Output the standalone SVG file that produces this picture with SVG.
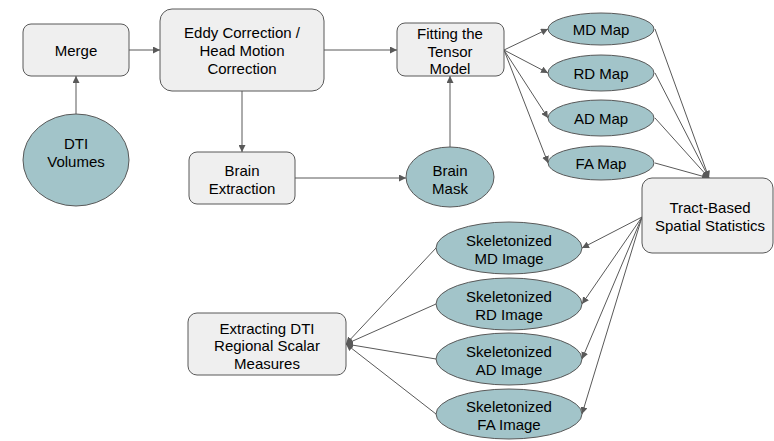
<svg xmlns="http://www.w3.org/2000/svg" width="774" height="441" viewBox="0 0 774 441">
<defs>
<marker id="ah" viewBox="0 0 10 10" refX="10" refY="5" markerWidth="7" markerHeight="7" markerUnits="userSpaceOnUse" orient="auto">
<path d="M0,0 L10,5 L0,10 z" fill="#595959"/>
</marker>
</defs>
<style>
.box{fill:#efefef;stroke:#595959;stroke-width:1}
.ell{fill:#a2c4c9;stroke:#595959;stroke-width:1}
.t{font-family:"Liberation Sans",Arial,sans-serif;font-size:15px;fill:#000;text-anchor:middle}
.c{stroke:#595959;stroke-width:1;fill:none;marker-end:url(#ah)}
</style>
<rect width="774" height="441" fill="#fff"/>
<g id="connectors">
<line class="c" x1="129" y1="50" x2="160" y2="50"/>
<line class="c" x1="76" y1="114" x2="76" y2="76"/>
<line class="c" x1="324" y1="50" x2="397" y2="50"/>
<line class="c" x1="242" y1="91" x2="242" y2="152"/>
<line class="c" x1="295" y1="178" x2="406" y2="178"/>
<line class="c" x1="450" y1="147" x2="450" y2="76"/>
<line class="c" x1="504" y1="50" x2="548" y2="29"/>
<line class="c" x1="504" y1="50" x2="548" y2="73"/>
<line class="c" x1="504" y1="50" x2="548" y2="118"/>
<line class="c" x1="504" y1="50" x2="548" y2="163"/>
<line class="c" x1="655" y1="29" x2="709" y2="178"/>
<line class="c" x1="655" y1="73" x2="709" y2="178"/>
<line class="c" x1="655" y1="118" x2="709" y2="178"/>
<line class="c" x1="655" y1="163" x2="709" y2="178"/>
<line class="c" x1="642" y1="217" x2="582" y2="248"/>
<line class="c" x1="642" y1="217" x2="582" y2="304"/>
<line class="c" x1="642" y1="217" x2="582" y2="359"/>
<line class="c" x1="642" y1="217" x2="582" y2="414"/>
<line class="c" x1="436" y1="248" x2="346" y2="344"/>
<line class="c" x1="436" y1="304" x2="346" y2="344"/>
<line class="c" x1="436" y1="359" x2="346" y2="344"/>
<line class="c" x1="436" y1="414" x2="346" y2="344"/>
</g>
<g id="merge">
<rect class="box" x="23" y="24" width="106" height="52" rx="8"/>
<text class="t" x="76" y="55.5">Merge</text>
</g>
<g id="dti-volumes">
<ellipse class="ell" cx="76" cy="160" rx="53" ry="46"/>
<text class="t" x="76" y="148.5">DTI</text>
<text class="t" x="76" y="166.5">Volumes</text>
</g>
<g id="eddy">
<rect class="box" x="160" y="9" width="164" height="82" rx="12"/>
<text class="t" x="242" y="37.5">Eddy Correction /</text>
<text class="t" x="242" y="55.5">Head Motion</text>
<text class="t" x="242" y="73.5">Correction</text>
</g>
<g id="brain-extraction">
<rect class="box" x="189" y="152" width="106" height="52" rx="8"/>
<text class="t" x="242" y="175.5">Brain</text>
<text class="t" x="242" y="193.5">Extraction</text>
</g>
<g id="brain-mask">
<ellipse class="ell" cx="450" cy="177" rx="44" ry="30"/>
<text class="t" x="450" y="175.5">Brain</text>
<text class="t" x="450" y="193.5">Mask</text>
</g>
<g id="fitting">
<rect class="box" x="397" y="23" width="107" height="53" rx="8"/>
<text class="t" x="450" y="38.5">Fitting the</text>
<text class="t" x="450" y="56.5">Tensor</text>
<text class="t" x="450" y="74">Model</text>
</g>
<g id="md-map">
<ellipse class="ell" cx="601" cy="29" rx="53" ry="16"/>
<text class="t" x="601" y="34.5">MD Map</text>
</g>
<g id="rd-map">
<ellipse class="ell" cx="601" cy="73" rx="53" ry="18"/>
<text class="t" x="601" y="78.5">RD Map</text>
</g>
<g id="ad-map">
<ellipse class="ell" cx="601" cy="118" rx="53" ry="18"/>
<text class="t" x="601" y="123.5">AD Map</text>
</g>
<g id="fa-map">
<ellipse class="ell" cx="601" cy="163" rx="53" ry="17"/>
<text class="t" x="601" y="168.5">FA Map</text>
</g>
<g id="tbss">
<rect class="box" x="642" y="178" width="131" height="75" rx="10"/>
<text class="t" x="710" y="212.5">Tract-Based</text>
<text class="t" x="710" y="230.5">Spatial Statistics</text>
</g>
<g id="skel-md">
<ellipse class="ell" cx="509" cy="248" rx="73" ry="26"/>
<text class="t" x="509" y="245.5">Skeletonized</text>
<text class="t" x="509" y="263.5">MD Image</text>
</g>
<g id="skel-rd">
<ellipse class="ell" cx="509" cy="304" rx="73" ry="26"/>
<text class="t" x="509" y="301.5">Skeletonized</text>
<text class="t" x="509" y="319.5">RD Image</text>
</g>
<g id="skel-ad">
<ellipse class="ell" cx="509" cy="359" rx="73" ry="26"/>
<text class="t" x="509" y="356.5">Skeletonized</text>
<text class="t" x="509" y="374.5">AD Image</text>
</g>
<g id="skel-fa">
<ellipse class="ell" cx="509" cy="414" rx="73" ry="25"/>
<text class="t" x="509" y="411.5">Skeletonized</text>
<text class="t" x="509" y="429.5">FA Image</text>
</g>
<g id="extracting">
<rect class="box" x="188" y="313" width="158" height="62" rx="9"/>
<text class="t" x="267" y="333.5">Extracting DTI</text>
<text class="t" x="267" y="350.5">Regional Scalar</text>
<text class="t" x="267" y="368.5">Measures</text>
</g>
</svg>
